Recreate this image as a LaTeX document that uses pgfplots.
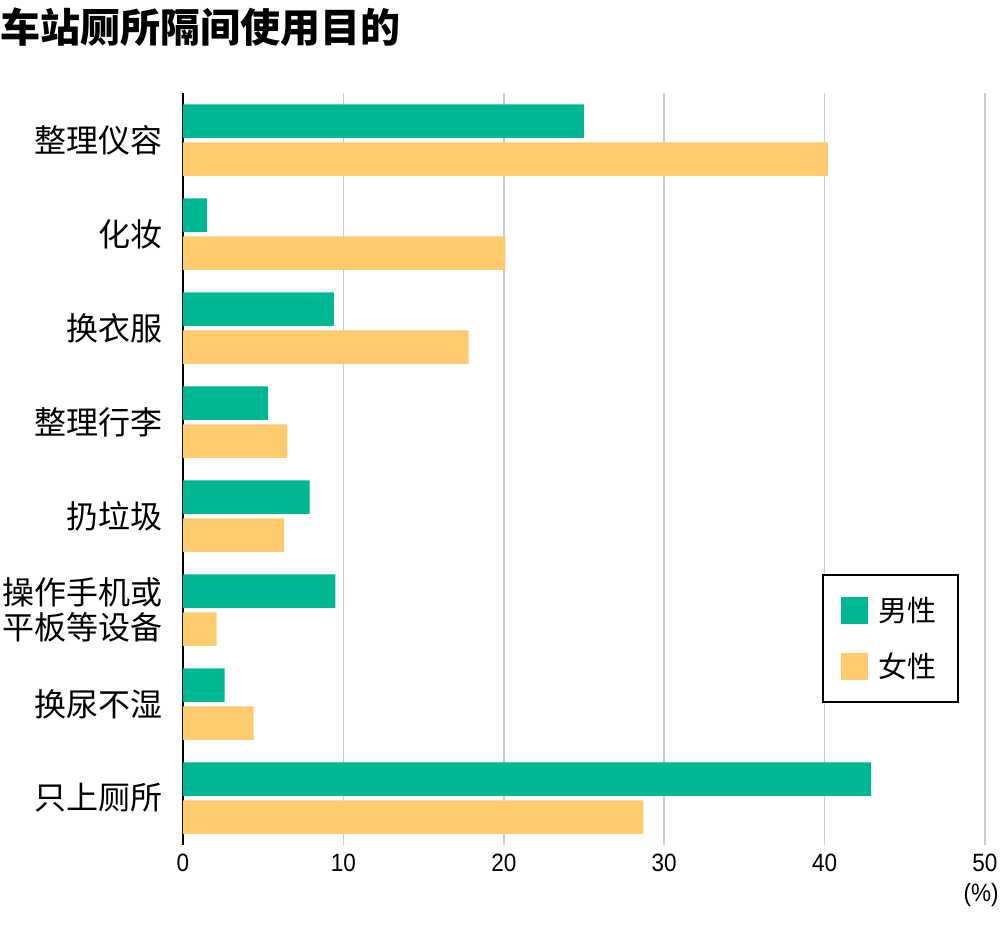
\documentclass[border=0pt]{standalone}
\usepackage{fontspec}
\usepackage{pgfplots}
\pgfplotsset{compat=1.18}
\setmainfont{Liberation Sans}
\newfontfamily\cjk{Noto Sans CJK SC}
\newfontfamily\numfont[FakeStretch=0.9]{Liberation Sans}
\definecolor{mgreen}{RGB}{0,183,148}
\definecolor{forange}{RGB}{253,202,110}
\definecolor{gridgray}{RGB}{204,204,204}
\begin{document}
\begin{tikzpicture}
\begin{axis}[
  scale only axis,
  width=401pt, height=376pt,
  xbar,
  bar width=16.75pt,
  xmin=0, xmax=50,
  ymin=-0.5, ymax=7.5,
  y dir=reverse,
  xtick={0,10,20,30,40,50},
  ytick={0,1,2,3,4,5,6,7},
  yticklabels={整理仪容,化妆,换衣服,整理行李,扔垃圾,{操作手机或\\平板等设备},换尿不湿,只上厕所},
  yticklabel style={font=\cjk\fontsize{16}{17.5}\selectfont, align=right, inner sep=0pt, xshift=-10pt},
  xticklabel style={font=\numfont\fontsize{12.5}{14}\selectfont, inner sep=0pt, yshift=-4.5pt},
  /pgf/number format/assume math mode=true,
  major tick length=0pt,
  xmajorgrids,
  grid style={gridgray, line width=0.75pt},
  axis x line*=bottom,
  axis y line*=left,
  x axis line style={draw=none},
  y axis line style={black, line width=1pt},
  axis line style={-},
  legend style={at={(0.797,0.360)}, anchor=north west, draw=black, line width=1pt,
    inner xsep=9pt, inner ysep=9pt, row sep=10pt,
    font=\cjk\fontsize{14.5}{16}\selectfont},
  legend cell align=left,
]
\addplot[draw=none, fill=mgreen, bar shift=9.5pt,
  legend image code/.code={\fill[mgreen] (0pt,-6.75pt) rectangle (13.5pt,6.75pt); \path (16.5pt,0pt);}]
  coordinates {(25.0,0) (1.5,1) (9.4,2) (5.3,3) (7.9,4) (9.5,5) (2.6,6) (42.9,7)};
\addlegendentry{男性}
\addplot[draw=none, fill=forange, bar shift=-9.5pt,
  legend image code/.code={\fill[forange] (0pt,-6.75pt) rectangle (13.5pt,6.75pt); \path (16.5pt,0pt);}]
  coordinates {(40.2,0) (20.1,1) (17.8,2) (6.5,3) (6.3,4) (2.1,5) (4.4,6) (28.7,7)};
\addlegendentry{女性}
\end{axis}
\node[anchor=north west, inner sep=0pt, font=\cjk\bfseries\fontsize{20}{22}\selectfont] at (-91.5pt,419pt) {车站厕所隔间使用目的};
\node[anchor=north east, inner sep=0pt, font=\numfont\fontsize{12.5}{14}\selectfont] at (408pt,-19pt) {(\%)};
\pgfresetboundingbox
\useasboundingbox (-91.5pt,-44.5pt) rectangle (408.5pt,422.5pt);
\end{tikzpicture}
\end{document}
